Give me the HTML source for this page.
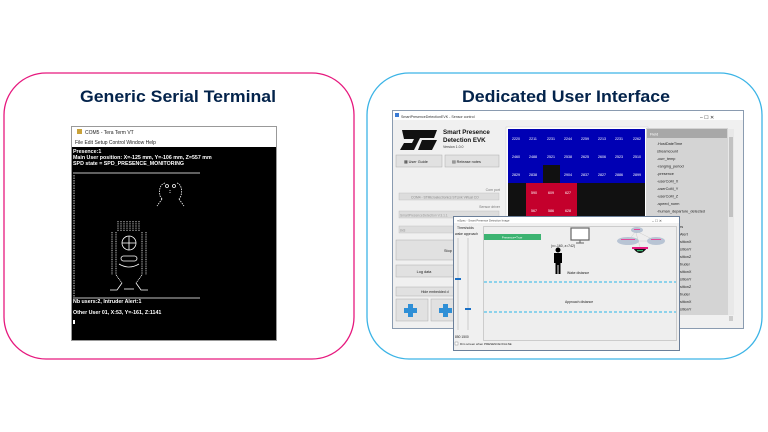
<!DOCTYPE html>
<html><head><meta charset="utf-8"><style>
html,body{margin:0;padding:0;background:#fff;}
svg{display:block;}
text{font-family:"Liberation Sans",sans-serif;}
.m{font-family:"Liberation Mono",monospace;font-weight:bold;}
</style></head><body>
<svg width="768" height="432" viewBox="0 0 768 432" xmlns="http://www.w3.org/2000/svg">
<rect width="768" height="432" fill="#fff"/>
<!-- boxes -->
<rect x="4" y="73" width="350" height="286" rx="42" fill="#fff" stroke="#e6197e" stroke-width="1.3"/>
<rect x="367" y="73" width="395" height="286" rx="42" fill="#fff" stroke="#3cb4e6" stroke-width="1.3"/>
<text x="178" y="102" text-anchor="middle" font-size="17" font-weight="bold" fill="#03234b" textLength="196" lengthAdjust="spacingAndGlyphs">Generic Serial Terminal</text>
<text x="566" y="102" text-anchor="middle" font-size="17" font-weight="bold" fill="#03234b" textLength="208" lengthAdjust="spacingAndGlyphs">Dedicated User Interface</text>

<!-- terminal -->
<rect x="71.5" y="126.5" width="205" height="214" fill="#fff" stroke="#999" stroke-width="1"/>
<rect x="77" y="129" width="5" height="5" fill="#c9a23a"/>
<text x="85" y="134" font-size="5" fill="#222">COM5 - Tera Term VT</text>
<text x="75" y="144" font-size="5" fill="#222">File  Edit  Setup  Control  Window  Help</text>
<rect x="72" y="147" width="204" height="193" fill="#000"/>
<g class="m" font-size="5.3" fill="#fff">
<text x="73" y="153">Presence:1</text>
<text x="73" y="159">Main User position: X=-125 mm, Y=-106 mm, Z=557 mm</text>
<text x="73" y="165">SPD state = SPD_PRESENCE_MONITORING</text>
<text x="73" y="303">Nb users:2, Intruder Alert:1</text>
<text x="73" y="314">Other User 01, X:53, Y=-161, Z:1141</text>
</g>
<rect x="73" y="320" width="2" height="4" fill="#fff"/>
<g stroke="#fff" fill="none" stroke-width="0.8">
<line x1="73" y1="173" x2="200" y2="173"/>
<line x1="73" y1="298" x2="200" y2="298"/>
<line x1="74" y1="175" x2="74" y2="297" stroke-dasharray="1.5 1"/>
<!-- small head -->
<path d="M165 183 Q158 185 160 196 L162 199 M177 183 Q183 185 181 196 L179 199" stroke-dasharray="1.5 1"/>
<circle cx="167" cy="186" r="1.5"/><circle cx="174" cy="186" r="1.5"/>
<line x1="170" y1="190" x2="170" y2="193" stroke-dasharray="1 1"/>
<path d="M162 199 L157 206 M179 199 L184 206" stroke-dasharray="1.5 1"/>
<!-- big figure -->
<g stroke-dasharray="1 0.8">
<line x1="118" y1="221" x2="118" y2="231"/><line x1="121" y1="221" x2="121" y2="231"/><line x1="124" y1="221" x2="124" y2="231"/><line x1="127" y1="221" x2="127" y2="231"/><line x1="130" y1="221" x2="130" y2="231"/><line x1="133" y1="221" x2="133" y2="231"/><line x1="136" y1="221" x2="136" y2="231"/><line x1="139" y1="221" x2="139" y2="231"/>
<path d="M116 232 L116 275 L122 283 M142 232 L142 275 L136 283"/>
<line x1="112" y1="232" x2="112" y2="275"/><line x1="146" y1="232" x2="146" y2="275"/>
</g>
<circle cx="129" cy="243" r="7"/>
<line x1="122" y1="243" x2="136" y2="243"/>
<line x1="129" y1="236" x2="129" y2="250"/>
<rect x="121" y="256" width="16" height="5" rx="2.5"/>
<path d="M119 264 Q129 270 139 264"/>
<path d="M122 283 L117 290 L110 290 M136 283 L141 290 L148 290"/>
<line x1="124" y1="289" x2="134" y2="289"/>
</g>

<!-- main app window -->
<rect x="392.5" y="110.5" width="351" height="218" fill="#f0f0f0" stroke="#8a9bb0"/>
<rect x="393" y="111" width="350" height="9" fill="#fff"/>
<rect x="395" y="113" width="4" height="4" fill="#3a7bd5"/>
<text x="401" y="118" font-size="3.6" fill="#333">SmartPresenceDetectionEVK - Sensor control</text>
<text x="700" y="119" font-size="5" fill="#333">–    ☐    ✕</text>
<!-- ST logo -->
<path d="M402 130 L437 130 L434 138 L420 138 L414 150 L400 150 L404 143 L412 143 L414 139 L404 139 Z" fill="#111"/>
<path d="M422 140 L437 140 L432 150 L418 150 Z" fill="#111"/>
<text x="443" y="134" font-size="6.2" font-weight="bold" fill="#111">Smart Presence</text>
<text x="443" y="142" font-size="6.2" font-weight="bold" fill="#111">Detection EVK</text>
<text x="443" y="148" font-size="3.5" fill="#333">Version 1.0.0</text>
<rect x="396" y="155" width="46" height="12" fill="#e1e1e1" stroke="#adadad" stroke-width="0.5"/>
<text x="404" y="163" font-size="3.8" fill="#222">▦ User Guide</text>
<rect x="445" y="155" width="54" height="12" fill="#e1e1e1" stroke="#adadad" stroke-width="0.5"/>
<text x="452" y="163" font-size="3.8" fill="#222">▤ Release notes</text>
<text x="500" y="191" font-size="3.5" fill="#777" text-anchor="end">Com port</text>
<rect x="399" y="193" width="100" height="7" fill="#ddd" stroke="#bbb" stroke-width="0.4"/>
<text x="411" y="198.5" font-size="3.3" fill="#888">COM4 - STMicroelectronics STLink Virtual CO</text>
<text x="500" y="208" font-size="3.5" fill="#777" text-anchor="end">Sensor driver</text>
<rect x="399" y="211" width="100" height="7" fill="#ddd" stroke="#bbb" stroke-width="0.4"/>
<text x="400" y="216.5" font-size="3.3" fill="#999">SmartPresenceDetection V.3.1.1</text>
<rect x="399" y="226" width="60" height="7" fill="#ddd" stroke="#bbb" stroke-width="0.4"/>
<text x="400" y="231.5" font-size="3.3" fill="#999">8x8</text>
<rect x="396" y="240" width="60" height="20" fill="#e1e1e1" stroke="#adadad" stroke-width="0.5"/>
<text x="444" y="252" font-size="3.8" fill="#222">Stop</text>
<rect x="396" y="265" width="60" height="12" fill="#e1e1e1" stroke="#adadad" stroke-width="0.5"/>
<text x="424" y="273" font-size="3.8" fill="#222" text-anchor="middle">Log data</text>
<rect x="396" y="287" width="60" height="9" fill="#e1e1e1" stroke="#adadad" stroke-width="0.5"/>
<text x="421" y="293" font-size="3.5" fill="#222">Hide embedded d</text>
<rect x="396" y="299" width="32" height="22" fill="#e1e1e1" stroke="#adadad" stroke-width="0.5"/>
<rect x="431" y="299" width="25" height="22" fill="#e1e1e1" stroke="#adadad" stroke-width="0.5"/>
<path d="M408 304 h5 v4 h4 v5 h-4 v4 h-5 v-4 h-4 v-5 h4 z" fill="#2f8fd6"/>
<path d="M443 304 h5 v4 h4 v5 h-4 v4 h-5 v-4 h-4 v-5 h4 z" fill="#2f8fd6"/>
<!-- heatmap -->
<rect x="506" y="127" width="142" height="190" fill="#fff" stroke="#ccc" stroke-width="0.5"/>
<rect x="508" y="129" width="137" height="54" fill="#0000b4"/>
<rect x="508" y="183" width="137" height="33" fill="#111"/>
<rect x="543" y="165" width="17" height="18" fill="#111"/>
<rect x="526" y="183" width="51" height="33" fill="#c4002c"/>
<g font-size="3.6" fill="#fff" text-anchor="middle">
<text x="516" y="140">2220</text><text x="533" y="140">2211</text><text x="551" y="140">2231</text><text x="568" y="140">2244</text><text x="585" y="140">2259</text><text x="602" y="140">2213</text><text x="619" y="140">2231</text><text x="637" y="140">2262</text>
<text x="516" y="158">2460</text><text x="533" y="158">2488</text><text x="551" y="158">2521</text><text x="568" y="158">2538</text><text x="585" y="158">2625</text><text x="602" y="158">2606</text><text x="619" y="158">2523</text><text x="637" y="158">2510</text>
<text x="516" y="176">2829</text><text x="533" y="176">2838</text><text x="568" y="176">2904</text><text x="585" y="176">2837</text><text x="602" y="176">2827</text><text x="619" y="176">2886</text><text x="637" y="176">2899</text>
<text x="534" y="194">590</text><text x="551" y="194">609</text><text x="568" y="194">627</text>
<text x="534" y="212">567</text><text x="551" y="212">586</text><text x="568" y="212">628</text>
</g>
<!-- field list -->
<rect x="646" y="128" width="82" height="187" fill="#d4d4d4"/>
<rect x="647" y="129" width="80" height="9" fill="#a8a8a8"/>
<text x="650" y="135.5" font-size="3.8" fill="#fff">Field</text>
<g font-size="3.8" fill="#222">
<text x="657" y="145">.HostDateTime</text><text x="657" y="152.5">streamcount</text><text x="657" y="160">-curr_temp</text><text x="657" y="167.5">-ranging_period</text><text x="657" y="175">-presence</text><text x="657" y="182.5">-userCoM_X</text><text x="657" y="190">-userCoM_Y</text><text x="657" y="197.5">-userCoM_Z</text><text x="657" y="205">-speed_norm</text><text x="657" y="212.5">-human_departure_detected</text>
<text x="680" y="228">rs</text><text x="680" y="235.5">Alert</text><text x="680" y="243">sitionX</text><text x="680" y="250.5">sitionY</text><text x="680" y="258">sitionZ</text><text x="680" y="265.5">truder</text><text x="680" y="273">sitionX</text><text x="680" y="280.5">sitionY</text><text x="680" y="288">sitionZ</text><text x="680" y="295.5">truder</text><text x="680" y="303">sitionX</text><text x="680" y="310.5">sitionY</text>
</g>
<rect x="728" y="129" width="6" height="186" fill="#e8e8e8"/>
<rect x="729" y="137" width="4" height="80" fill="#c2c2c2"/>
<rect x="729" y="316" width="4" height="5" fill="#ccc"/>

<!-- overlay window -->
<rect x="453.5" y="216.5" width="226" height="134" fill="#f0f0f0" stroke="#6b7f99"/>
<rect x="454" y="217" width="225" height="6" fill="#fff"/>
<text x="457" y="221.5" font-size="2.8" fill="#444">mSpec - Smart Presence Detection Image</text>
<text x="652" y="222" font-size="3.5" fill="#444">–    ☐    ✕</text>
<text x="457" y="229" font-size="3.4" fill="#222">Thresholds</text>
<text x="455" y="235" font-size="3.4" fill="#222">wake approach</text>
<line x1="458" y1="238" x2="458" y2="330" stroke="#bbb" stroke-width="0.7"/>
<line x1="468" y1="238" x2="468" y2="330" stroke="#bbb" stroke-width="0.7"/>
<rect x="455" y="278" width="6" height="2" fill="#1a6fc4"/>
<rect x="465" y="308" width="6" height="2" fill="#1a6fc4"/>
<text x="455" y="338" font-size="3.3" fill="#222">850  1500</text>
<rect x="455" y="342" width="3" height="3" fill="#fff" stroke="#555" stroke-width="0.3"/>
<text x="460" y="345" font-size="3" fill="#222">Dim screen when PRESENCE=FALSE</text>
<rect x="483.5" y="226.5" width="193" height="114" fill="#eeeeee" stroke="#aaa" stroke-width="0.5"/>
<rect x="484" y="234" width="57" height="6" fill="#3cb371"/>
<text x="512" y="238.5" font-size="3" fill="#fff" text-anchor="middle">Presence=True</text>
<!-- monitor -->
<rect x="571" y="228" width="18" height="12" fill="#fff" stroke="#666" stroke-width="1.2"/>
<line x1="580" y1="240" x2="580" y2="243" stroke="#666"/><line x1="576" y1="243" x2="584" y2="243" stroke="#666"/>
<text x="563" y="247" font-size="3.4" fill="#222" text-anchor="middle">(x=-160, z=742)</text>
<!-- person -->
<circle cx="558" cy="250" r="2.5" fill="#000"/>
<path d="M554 253 h8 v10 h-1.5 v11 h-2 v-9 h-1 v9 h-2 v-11 h-1.5 z" fill="#000"/>
<text x="567" y="274" font-size="3.4" fill="#222">Wake distance</text>
<line x1="484" y1="282" x2="676" y2="282" stroke="#2bb5e8" stroke-width="1" stroke-dasharray="3 2"/>
<text x="565" y="303" font-size="3.4" fill="#222">Approach distance</text>
<line x1="484" y1="312" x2="676" y2="312" stroke="#2bb5e8" stroke-width="1" stroke-dasharray="3 2"/>
<!-- network icons -->
<g stroke="#ccc" stroke-width="0.5"><line x1="628" y1="241" x2="636" y2="231"/><line x1="636" y1="231" x2="656" y2="241"/><line x1="628" y1="241" x2="656" y2="241"/><line x1="640" y1="247" x2="636" y2="233"/></g>
<ellipse cx="628" cy="241" rx="11" ry="4" fill="#b8c4d4"/>
<ellipse cx="637" cy="230" rx="6" ry="3" fill="#b8c4d4"/>
<ellipse cx="656" cy="241" rx="9" ry="4" fill="#b8c4d4"/>
<rect x="621" y="239" width="14" height="1" fill="#e34a9a"/><rect x="634" y="229" width="6" height="1" fill="#e34a9a"/><rect x="651" y="239" width="10" height="1" fill="#e34a9a"/>
<path d="M633 248 Q640 258 647 248 Z" fill="#111"/>
<rect x="632" y="247" width="16" height="2" fill="#e6197e"/>
<rect x="637" y="250" width="6" height="1.2" fill="#3cb371"/>
</svg>
</body></html>
